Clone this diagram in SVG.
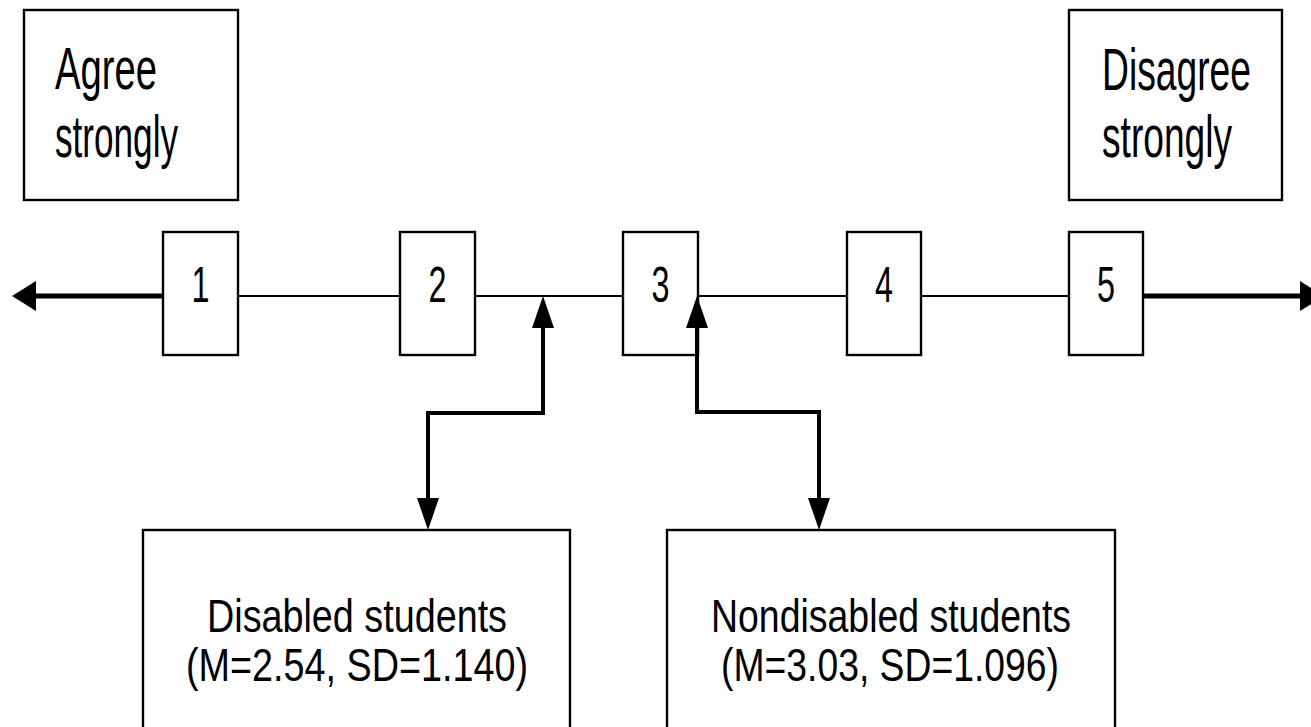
<svg xmlns="http://www.w3.org/2000/svg" width="1311" height="727" viewBox="0 0 1311 727">
<style>
.box{fill:#fff;stroke:#000;stroke-width:2.4}
.t{font-family:"Liberation Sans",Arial,sans-serif;fill:#000}
.big{font-size:60px}
.num{font-size:50px;text-anchor:middle}
.lbl{font-size:46px;text-anchor:middle}
.thin{stroke:#000;stroke-width:2.2;fill:none}
.thick{stroke:#000;stroke-width:5;fill:none}
.conn{stroke:#000;stroke-width:4;fill:none;stroke-linejoin:miter}
.head{fill:#000}
</style>
<rect width="1311" height="727" fill="#fff"/>
<g id="agree">
<rect class="box" x="24" y="10" width="214" height="190"/>
<text class="t big" x="55" y="89" textLength="102" lengthAdjust="spacingAndGlyphs">Agree</text>
<text class="t big" x="55" y="157" textLength="123" lengthAdjust="spacingAndGlyphs">strongly</text>
</g>
<g id="disagree">
<rect class="box" x="1069" y="10" width="213" height="190"/>
<text class="t big" x="1102" y="90" textLength="149" lengthAdjust="spacingAndGlyphs">Disagree</text>
<text class="t big" x="1102" y="157" textLength="130" lengthAdjust="spacingAndGlyphs">strongly</text>
</g>
<g id="n1"><rect class="box" x="163" y="232" width="75" height="123"/><text class="t num" x="200.5" y="302" textLength="18" lengthAdjust="spacingAndGlyphs">1</text></g>
<g id="n2"><rect class="box" x="400" y="232" width="75" height="123"/><text class="t num" x="437.5" y="302" textLength="18" lengthAdjust="spacingAndGlyphs">2</text></g>
<g id="n3"><rect class="box" x="623" y="232" width="75" height="123"/><text class="t num" x="660.5" y="302" textLength="18" lengthAdjust="spacingAndGlyphs">3</text></g>
<g id="n4"><rect class="box" x="847" y="232" width="74" height="123"/><text class="t num" x="884" y="302" textLength="18" lengthAdjust="spacingAndGlyphs">4</text></g>
<g id="n5"><rect class="box" x="1069" y="232" width="74" height="123"/><text class="t num" x="1106" y="302" textLength="18" lengthAdjust="spacingAndGlyphs">5</text></g>
<g id="disabled">
<rect class="box" x="143" y="530" width="427" height="220"/>
<text class="t lbl" x="357" y="632" textLength="300" lengthAdjust="spacingAndGlyphs">Disabled students</text>
<text class="t lbl" x="357" y="681" textLength="342" lengthAdjust="spacingAndGlyphs">(M=2.54, SD=1.140)</text>
</g>
<g id="nondisabled">
<rect class="box" x="667" y="530" width="448" height="220"/>
<text class="t lbl" x="891" y="632" textLength="360" lengthAdjust="spacingAndGlyphs">Nondisabled students</text>
<text class="t lbl" x="890" y="681" textLength="338" lengthAdjust="spacingAndGlyphs">(M=3.03, SD=1.096)</text>
</g>
<g id="connectors">
<line class="thin" x1="238" y1="296" x2="400" y2="296"/>
<line class="thin" x1="475" y1="296" x2="623" y2="296"/>
<line class="thin" x1="698" y1="296" x2="847" y2="296"/>
<line class="thin" x1="921" y1="296" x2="1069" y2="296"/>
<line class="thick" x1="163" y1="296" x2="32" y2="296"/>
<polygon class="head" points="12,296 36,281 36,311"/>
<line class="thick" x1="1143" y1="296" x2="1302" y2="296"/>
<polygon class="head" points="1324,296 1300,281 1300,311"/>
<polyline class="conn" points="543,326 543,413 428,413 428,500"/>
<polygon class="head" points="543,296 532,328 554,328"/>
<polygon class="head" points="428,530 417,498 439,498"/>
<polyline class="conn" points="697,326 697,412 819,412 819,500"/>
<polygon class="head" points="697,296 686,328 708,328"/>
<polygon class="head" points="819,530 808,498 830,498"/>
</g>
</svg>
